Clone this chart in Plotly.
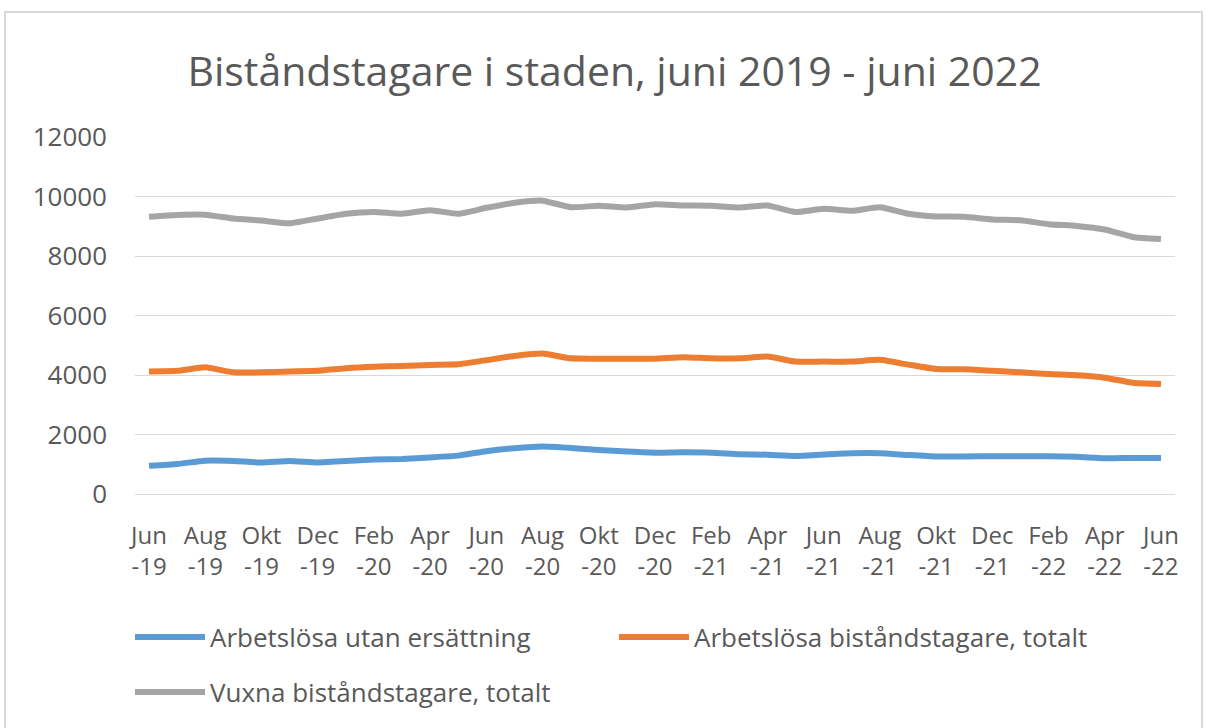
import plotly.graph_objects as go

months = ["Jun-19", "Jul-19", "Aug-19", "Sep-19", "Okt-19", "Nov-19", "Dec-19", "Jan-20", "Feb-20", "Mar-20",
          "Apr-20", "Maj-20", "Jun-20", "Jul-20", "Aug-20", "Sep-20", "Okt-20", "Nov-20", "Dec-20", "Jan-21",
          "Feb-21", "Mar-21", "Apr-21", "Maj-21", "Jun-21", "Jul-21", "Aug-21", "Sep-21", "Okt-21", "Nov-21",
          "Dec-21", "Jan-22", "Feb-22", "Mar-22", "Apr-22", "Maj-22", "Jun-22"]

utan_ersattning = [950, 1010, 1120, 1110, 1060, 1110, 1060, 1110, 1160, 1180,
                   1230, 1290, 1440, 1540, 1600, 1550, 1480, 1430, 1390, 1400,
                   1390, 1340, 1320, 1280, 1330, 1370, 1370, 1310, 1260, 1260,
                   1270, 1270, 1270, 1250, 1200, 1210, 1210]

arbetslosa_totalt = [4120, 4140, 4260, 4090, 4090, 4120, 4140, 4230, 4280, 4300,
                     4340, 4360, 4500, 4640, 4720, 4560, 4550, 4550, 4550, 4600,
                     4560, 4560, 4620, 4450, 4450, 4450, 4510, 4350, 4200, 4190,
                     4140, 4090, 4030, 3990, 3910, 3740, 3700]

vuxna_totalt = [9320, 9380, 9390, 9260, 9190, 9100, 9260, 9420, 9480, 9420,
                9540, 9420, 9620, 9790, 9860, 9640, 9690, 9630, 9740, 9700,
                9690, 9630, 9700, 9480, 9590, 9520, 9640, 9420, 9330, 9320,
                9230, 9200, 9070, 9010, 8890, 8640, 8570]

series_names = ["Arbetslösa utan ersättning", "Arbetslösa biståndstagare, totalt", "Vuxna biståndstagare, totalt"]
series_colors = ["#5B9BD5", "#ED7D31", "#A5A5A5"]
series_legends = ["legend", "legend", "legend2"]
y_ticks = [0, 2000, 4000, 6000, 8000, 10000, 12000]
y_tick_text = [str(v) for v in y_ticks]
title_text = "Biståndstagare i staden, juni 2019 - juni 2022"

tick_vals = months[::2]
tick_text = [m.replace("-", "<br>-") for m in tick_vals]

fig = go.Figure()
for name, vals, col, lg in zip(series_names, [utan_ersattning, arbetslosa_totalt, vuxna_totalt],
                               series_colors, series_legends):
    fig.add_trace(go.Scatter(x=months, y=vals, name=name, mode="lines", legend=lg,
                             line=dict(color=col, width=6, shape="spline", smoothing=0.5)))

W, H = 1205, 728
L, R, T, B = 135, 30, 137, 234
pw, ph = W - L - R, H - T - B

def px_x(x):
    return (x - L) / pw

def px_y(y):
    return (H - B - y) / ph

font_family = "Open Sans, sans-serif"
text_col = "#595959"
leg_font = dict(size=26, color=text_col, family=font_family)

fig.update_layout(
    width=W, height=H,
    margin=dict(l=L, r=R, t=T, b=B, autoexpand=False),
    paper_bgcolor="white", plot_bgcolor="white",
    font=dict(family=font_family, color=text_col, size=24),
    title=dict(text=title_text, x=0.51, xanchor="center", y=1 - 72 / H, yanchor="middle",
               font=dict(size=41, color=text_col, family=font_family)),
    showlegend=True,
    legend=dict(orientation="h", x=px_x(130), xanchor="left", y=px_y(637), yanchor="middle",
                font=leg_font, itemwidth=70, entrywidth=399,
                entrywidthmode="pixels", itemclick=False, bgcolor="rgba(0,0,0,0)"),
    legend2=dict(orientation="h", x=px_x(130), xanchor="left", y=px_y(692), yanchor="middle",
                 font=leg_font, itemwidth=70, itemclick=False, bgcolor="rgba(0,0,0,0)"),
    xaxis=dict(type="category", range=[-0.5, len(months) - 0.5], tickmode="array",
               tickvals=tick_vals, ticktext=tick_text, showgrid=False, zeroline=False,
               showline=True, linecolor="#D9D9D9", linewidth=1, ticks="",
               ticklabelstandoff=20, tickfont=dict(size=24, color=text_col), tickangle=0),
    yaxis=dict(range=[0, 12000], tickmode="array", tickvals=y_ticks, ticktext=y_tick_text,
               showgrid=True, gridcolor="#D9D9D9", gridwidth=1, zeroline=False, showline=False,
               ticks="", ticklabelstandoff=27, tickfont=dict(size=26, color=text_col)),
    shapes=[dict(type="rect", xref="paper", yref="paper", x0=px_x(5), x1=px_x(1202),
                 y0=px_y(740), y1=px_y(12), line=dict(color="#D9D9D9", width=2),
                 fillcolor="rgba(0,0,0,0)", layer="below")],
)

fig.write_html("out.html", config={"displayModeBar": False},
               post_script="document.body.style.margin='0';")
